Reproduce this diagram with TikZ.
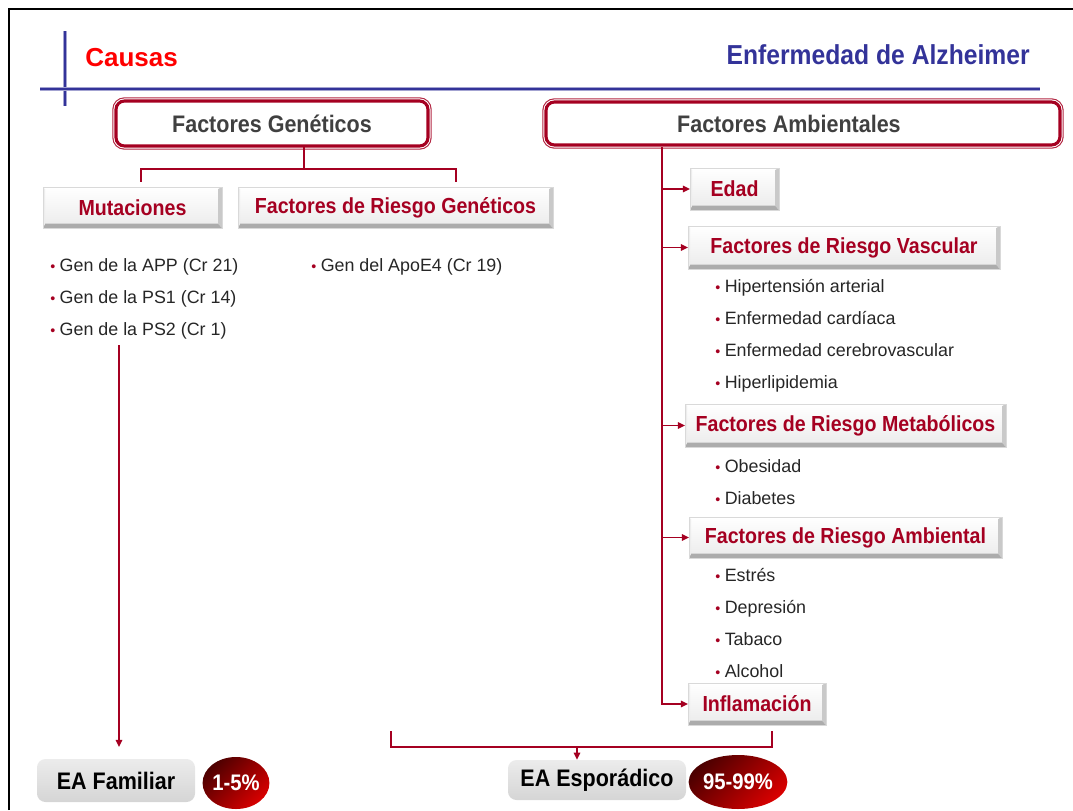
\documentclass[tikz,border=0pt]{standalone}
\usepackage{fontspec}
\setmainfont{Liberation Sans}
\newfontfamily\cond[FakeStretch=0.9]{Liberation Sans}
\usetikzlibrary{arrows.meta,shapes.geometric}
\definecolor{crim}{RGB}{165,0,33}
\definecolor{navyb}{RGB}{51,51,153}
\definecolor{dgray}{RGB}{64,64,64}
\newcommand\mybul{{\color{crim}\scalebox{0.8}{\textbullet}}\hspace{0.25em}}
\def\pxu{0.025cm}
\begin{document}
\begin{tikzpicture}[x=0.025cm,y=-0.025cm,
  bev/.style={inner sep=0pt, outer sep=0pt, top color=white, bottom color=gray!16,
    draw=gray!30, line width=0.3pt, text=crim, font=\cond\bfseries\fontsize{15.5}{18}\selectfont,
    path picture={
      \fill[gray!65] (path picture bounding box.south west) -- (path picture bounding box.south east)
        -- ([shift={(-2.8pt,3.2pt)}]path picture bounding box.south east)
        -- ([shift={(1.5pt,3.2pt)}]path picture bounding box.south west) -- cycle;
      \fill[gray!42] (path picture bounding box.north east)
        -- ([shift={(-2.8pt,-1.5pt)}]path picture bounding box.north east)
        -- ([shift={(-2.8pt,3.2pt)}]path picture bounding box.south east)
        -- (path picture bounding box.south east) -- cycle;
      \fill[gray!14] (path picture bounding box.north west)
        -- ([shift={(1.5pt,-1.5pt)}]path picture bounding box.north west)
        -- ([shift={(1.5pt,3.2pt)}]path picture bounding box.south west)
        -- (path picture bounding box.south west) -- cycle;
    }},
  dbl/.style={rounded corners=6pt, fill=white, draw=crim, line width=2.2pt,
    preaction={draw=crim!85, line width=5.2pt},
    preaction={draw=white, line width=3.6pt},
    inner sep=0pt, text=dgray, font=\cond\bfseries\fontsize{17}{20}\selectfont},
  gbox/.style={rounded corners=6pt, top color=gray!15, bottom color=gray!33, inner sep=0pt,
    text=black, font=\cond\bfseries\fontsize{17}{20}\selectfont},
  pct/.style={ellipse, inner sep=0pt, top color=red!30!black, bottom color=red!85!black,
    shading angle=45, text=white, font=\cond\bfseries\fontsize{16}{18}\selectfont},
  btext/.style={anchor=base west, inner sep=0pt, text=black!85, font=\fontsize{12.7}{15}\selectfont},
  conn/.style={draw=crim, line width=1.2pt},
  arr/.style={conn, -{Triangle[length=5pt,width=4.5pt]}}
]
\path[use as bounding box] (0,0) rectangle (1073,810);
% frame
\draw[line width=1.4pt] (9,810) -- (9,9) -- (1073,9);
% header lines
\draw[navyb!45, line width=3.2pt] (65,31) -- (65,106);
\draw[navyb, line width=1.6pt] (65,31) -- (65,106);
\draw[navyb!45, line width=3.2pt] (40,89) -- (1040,89);
\draw[navyb, line width=1.6pt] (40,89) -- (1040,89);
\node[anchor=west, inner sep=0pt, text=red, font=\bfseries\fontsize{18.5}{22}\selectfont] (causas) at (85,58) {Causas};
\node[anchor=east, inner sep=0pt, text=navyb, font=\cond\bfseries\fontsize{19.5}{23}\selectfont] (alz) at (1030,55) {Enfermedad de Alzheimer};

% main boxes
\node[dbl, minimum width=312*\pxu, minimum height=45*\pxu] (fg) at (272,123.5) {Factores Genéticos};
\node[dbl, minimum width=514*\pxu, minimum height=43*\pxu] (fa) at (803,123.5) {Factores Ambientales\hspace*{20pt}};

% genetic branch
\node[bev, minimum width=179*\pxu, minimum height=41*\pxu] (mut) at (132.5,207.5) {Mutaciones};
\node[bev, minimum width=315*\pxu, minimum height=41*\pxu] (frg) at (395.5,207.5) {Factores de Riesgo Genéticos};
\coordinate (fgb) at (304,147);
\coordinate (jl) at (141,182);
\coordinate (jr) at (456,182);
\draw[conn] (fgb) -- (304,169) -| (jl);
\draw[conn] (304,169) -| (jr);

\node[btext] (app) at (50,271) {\mybul Gen de la APP (Cr 21)};
\node[btext] (ps1) at (50,303) {\mybul Gen de la PS1 (Cr 14)};
\node[btext] (ps2) at (50,335) {\mybul Gen de la PS2 (Cr 1)};
\node[btext] (apoe) at (311,271) {\mybul Gen del ApoE4 (Cr 19)};

% bottom
\node[gbox, minimum width=158*\pxu, minimum height=43*\pxu] (famil) at (116,780.5) {EA Familiar};
\node[pct, minimum width=56*\pxu, minimum height=52*\pxu] (p15) at (236,783) {1-5\%};
\node[gbox, minimum width=178*\pxu, minimum height=40*\pxu] (espor) at (597,780) {EA Esporádico};
\node[pct, minimum width=80*\pxu, minimum height=54*\pxu] (p95) at (738,782) {95-99\%};

\coordinate (famst) at (119,345);
\coordinate (famend) at (119,747);
\draw[arr] (famst) -- (famend);

% environmental branch
\node[bev, minimum width=89*\pxu, minimum height=42*\pxu] (edad) at (734.5,189) {Edad};
\node[bev, minimum width=312*\pxu, minimum height=43*\pxu] (frv) at (844,247.5) {Factores de Riesgo Vascular};
\node[btext] (hip) at (715,292) {\mybul Hipertensión arterial};
\node[btext] (card) at (715,324) {\mybul Enfermedad cardíaca};
\node[btext] (cereb) at (715,356) {\mybul Enfermedad cerebrovascular};
\node[btext] (hiper) at (715,388) {\mybul Hiperlipidemia};
\node[bev, minimum width=321*\pxu, minimum height=43*\pxu] (frm) at (845.5,425.5) {Factores de Riesgo Metabólicos};
\node[btext] (obes) at (715,472) {\mybul Obesidad};
\node[btext] (diab) at (715,504) {\mybul Diabetes};
\node[bev, minimum width=313*\pxu, minimum height=41*\pxu] (fra) at (845.5,537.5) {Factores de Riesgo Ambiental};
\node[btext] (estres) at (715,581) {\mybul Estrés};
\node[btext] (depr) at (715,613) {\mybul Depresión};
\node[btext] (tabaco) at (715,645) {\mybul Tabaco};
\node[btext] (alcohol) at (715,677) {\mybul Alcohol};
\node[bev, minimum width=138*\pxu, minimum height=42*\pxu] (infl) at (757,704) {Inflamación};

\coordinate (fav) at (662,147);
\draw[arr] (fav) |- (infl.west);
\draw[arr] (fav |- edad.west) -- (edad.west);
\draw[arr] (fav |- frv.west) -- (frv.west);
\draw[arr] (fav |- frm.west) -- (frm.west);
\draw[arr] (fav |- fra.west) -- (fra.west);

% bracket to EA Esporadico
\coordinate (bl) at (391,731);
\coordinate (br) at (772,731);
\coordinate (bm) at (577,747);
\draw[conn] (bl) -- (391,747) -| (br);
\draw[arr] (bm) -- (bm |- espor.north);
\end{tikzpicture}
\end{document}
